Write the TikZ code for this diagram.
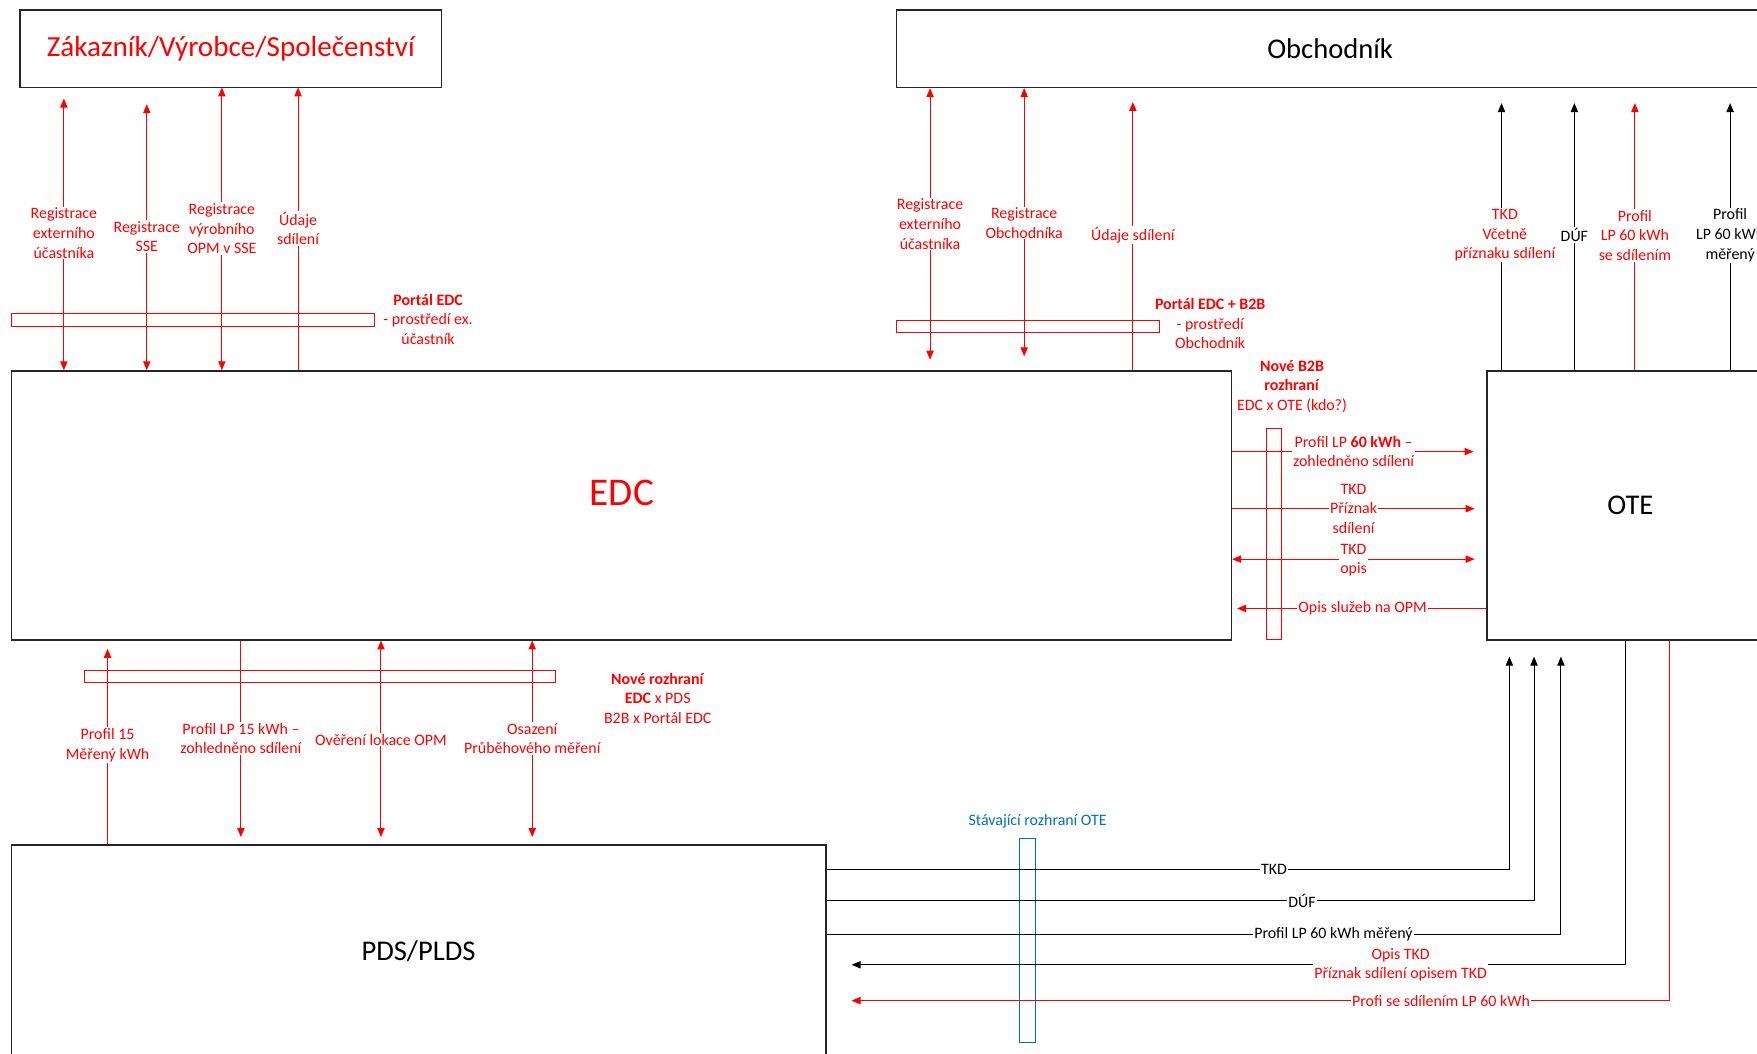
\documentclass[tikz,border=0pt]{standalone}
\usepackage{fontspec}
\setmainfont{Carlito}
\usepackage{tikz}
\usetikzlibrary{positioning}
\usetikzlibrary{arrows.meta}

\definecolor{edcred}{RGB}{255,0,0}
\definecolor{oteblue}{RGB}{0,112,192}

\begin{document}
\begin{tikzpicture}[
  x=1pt, y=-1pt,
  box/.style = {draw=black!85, line width=1.2pt, inner sep=0pt},
  bar/.style = {draw=edcred, line width=0.9pt, inner sep=0pt},
  lbl/.style = {font=\fontsize{14.2}{17.5}\selectfont, text=edcred, fill=white,
                inner sep=1pt, align=center},
  blbl/.style = {lbl, text=black},
  rarr/.style = {edcred, line width=0.9pt},
  barr/.style = {black, line width=0.9pt},
  >={Triangle[length=8pt,width=6.5pt]}
]

  \fill[white] (0,0) rectangle (1568,940);
  \useasboundingbox (0,0) rectangle (1568,940);

  % boxes
  \node[box, minimum width=376pt, minimum height=69pt, text=edcred,
        font=\fontsize{26}{30}\selectfont] (zak) at (206,43.5) {Zákazník/Výrobce/Společenství};
  \node[box, minimum width=774pt, minimum height=69pt,
        font=\fontsize{25.5}{30}\selectfont] (obch) at (1187,43.5) {Obchodník};
  \node[box, minimum width=1089pt, minimum height=240pt] (edc) at (554.5,451) {};
  \node[text=edcred, font=\fontsize{35}{40}\selectfont] (edctxt) at (555,440) {EDC};
  \node[box, minimum width=256pt, minimum height=240pt,
        font=\fontsize{25.5}{30}\selectfont] (ote) at (1455,451) {OTE};
  \node[box, minimum width=727pt, minimum height=190pt,
        font=\fontsize{25.5}{30}\selectfont] (pds) at (373.5,849) {PDS/PLDS};

  % rozhrani
  \node[bar, minimum width=324pt, minimum height=11pt] (portal) at (172,285.5) {};
  \node[bar, minimum width=235pt, minimum height=11pt] (portalb) at (917.5,291.5) {};
  \node[bar, minimum width=14pt, minimum height=189pt] (b2b) at (1137,476.5) {};
  \node[bar, minimum width=421pt, minimum height=11pt] (pdsbar) at (285.5,603.5) {};
  \node[bar, draw=oteblue, minimum width=14pt, minimum height=182pt] (otebar) at (917,839) {};

  % Zakaznik x EDC
  \coordinate (zk1) at (57,88);
  \coordinate (zk2) at (131,93);
  \coordinate (zk3) at (198,78);
  \coordinate (zk4) at (266,78);
  \draw[rarr,<->] (zk1) -- (zk1 |- edc.north);
  \draw[rarr,<->] (zk2) -- (zk2 |- edc.north);
  \draw[rarr,<->] (zk3) -- (zk3 |- edc.north);
  \draw[rarr,->] (zk4 |- edc.north) -- (zk4);
  \node[lbl] (zl1) at (57,208) {Registrace\\externího\\účastníka};
  \node[lbl] (zl2) at (131,211) {Registrace\\SSE};
  \node[lbl] (zl3) at (198,204) {Registrace\\výrobního\\OPM v SSE};
  \node[lbl] (zl4) at (266,204) {Údaje\\sdílení};
  \node[lbl, fill=none] (portaltxt) at (382,285) {\textbf{Portál EDC}\\- prostředí ex.\\účastník};

  % Obchodnik x EDC
  \coordinate (ob1) at (830,321);
  \coordinate (ob2) at (914,318);
  \coordinate (ob3) at (1011,91);
  \draw[rarr,<->] (ob1 |- obch.south) -- (ob1);
  \draw[rarr,<->] (ob2 |- obch.south) -- (ob2);
  \draw[rarr,->] (ob3 |- edc.north) -- (ob3);
  \node[lbl] (ol1) at (830,200) {Registrace\\externího\\účastníka};
  \node[lbl] (ol2) at (914,199) {Registrace\\Obchodníka};
  \node[lbl] (ol3) at (1011,210) {Údaje sdílení};
  \node[lbl, fill=none] (portalbtxt) at (1080,289) {\textbf{Portál EDC + B2B}\\- prostředí\\Obchodník};

  % OTE x Obchodnik
  \coordinate (ot1) at (1340,92);
  \coordinate (ot2) at (1405,92);
  \coordinate (ot3) at (1459,92);
  \coordinate (ot4) at (1544,92);
  \draw[barr,->] (ot1 |- ote.north) -- (ot1);
  \draw[barr,->] (ot2 |- ote.north) -- (ot2);
  \draw[rarr,->] (ot3 |- ote.north) -- (ot3);
  \draw[barr,->] (ot4 |- ote.north) -- (ot4);
  \node[lbl] (tl1) at (1343,210) {TKD\\Včetně\\příznaku sdílení};
  \node[blbl] (tl2) at (1405,210) {DÚF};
  \node[lbl] (tl3) at (1459,210) {Profil\\LP 60 kWh\\se sdílením};
  \node[blbl] (tl4) at (1544,210) {Profil\\LP 60 kWh\\měřený};

  % EDC x OTE
  \node[lbl, fill=none] (b2btxt) at (1153,345) {\textbf{Nové B2B}\\\textbf{rozhraní}\\EDC x OTE (kdo?)};
  \coordinate (h1) at (1315,403);
  \coordinate (h2) at (1316,454);
  \coordinate (h3) at (1316,499);
  \coordinate (h4) at (1104,543);
  \draw[rarr,->] (h1 -| edc.east) -- (h1);
  \draw[rarr,->] (h2 -| edc.east) -- (h2);
  \draw[rarr,<->] (h3 -| edc.east) -- (h3);
  \draw[rarr,->] (h4 -| ote.west) -- (h4);
  \node[lbl] (hl1) at (1208,403) {Profil LP \textbf{60 kWh} –\\zohledněno sdílení};
  \node[lbl] (hl2) at (1208,454) {TKD\\Příznak\\sdílení};
  \node[lbl] (hl3) at (1208,500) {TKD\\opis};
  \node[lbl] (hl4) at (1216,543) {Opis služeb na OPM};

  % EDC x PDS
  \coordinate (p1) at (96,579);
  \coordinate (p2) at (215,747);
  \coordinate (p3) at (340,747);
  \coordinate (p4) at (475,747);
  \draw[rarr,->] (p1 |- pds.north) -- (p1);
  \draw[rarr,->] (p2 |- edc.south) -- (p2);
  \draw[rarr,<->] (p3 |- edc.south) -- (p3);
  \draw[rarr,<->] (p4 |- edc.south) -- (p4);
  \node[lbl] (pl1) at (96,665) {Profil 15\\Měřený kWh};
  \node[lbl] (pl2) at (215,659) {Profil LP 15 kWh –\\zohledněno sdílení};
  \node[lbl] (pl3) at (340,660) {Ověření lokace OPM};
  \node[lbl] (pl4) at (475,659) {Osazení\\Průběhového měření};
  \node[lbl, fill=none] (pdsbartxt) at (587,623) {\textbf{Nové rozhraní}\\\textbf{EDC} x PDS\\B2B x Portál EDC};

  % PDS x OTE
  \node[lbl, text=oteblue, fill=none] (otebartxt) at (926,733) {Stávající rozhraní OTE};
  \coordinate (c1) at (1347,776);
  \coordinate (c2) at (1369,804);
  \coordinate (c3) at (1393,834);
  \coordinate (c4) at (1451,861);
  \coordinate (c5) at (1490,893);
  \coordinate (r4) at (760,861);
  \coordinate (r5) at (760,893);
  \draw[barr,->] (c1 -| pds.east) -- (c1) -- (c1 |- 0,586);
  \draw[barr,->] (c2 -| pds.east) -- (c2) -- (c2 |- 0,586);
  \draw[barr,->] (c3 -| pds.east) -- (c3) -- (c3 |- 0,586);
  \draw[barr,->] (c4 |- ote.south) -- (c4) -- (r4);
  \draw[rarr,->] (c5 |- ote.south) -- (c5) -- (r5);
  \node[blbl] (ql1) at (1137,776) {TKD};
  \node[blbl] (ql2) at (1162,804) {DÚF};
  \node[blbl] (ql3) at (1190,834) {Profil LP 60 kWh měřený};
  \node[lbl] (ql4) at (1250,861) {Opis TKD\\Příznak sdílení opisem TKD};
  \node[lbl] (ql5) at (1286,893) {Profi se sdílením LP 60 kWh};

\end{tikzpicture}
\end{document}
